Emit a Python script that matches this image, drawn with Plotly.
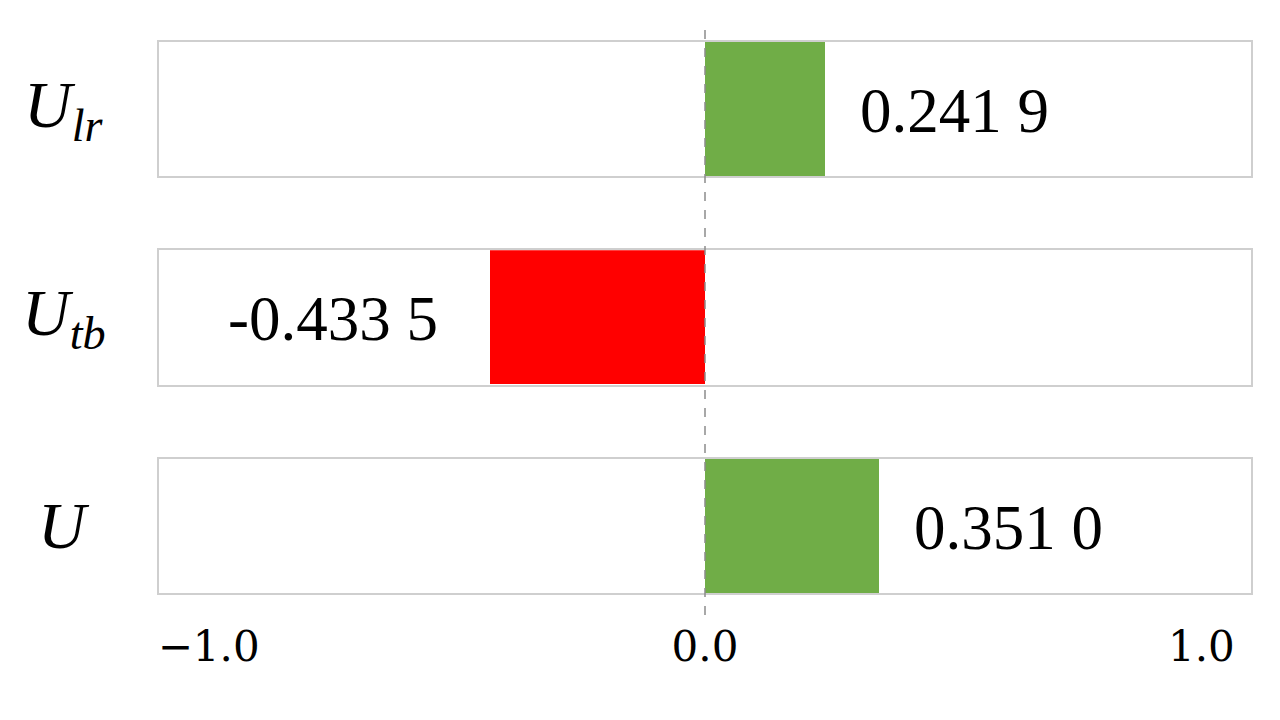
import plotly.graph_objects as go
from plotly.subplots import make_subplots

# Data (top to bottom)
categories = ["<i>U</i><sub><i>lr</i></sub>", "<i>U</i><sub><i>tb</i></sub>", "<i>U</i>"]
values = [0.2419, -0.4335, 0.3510]
value_labels = ["0.241 9", "-0.433 5", "0.351 0"]
tick_vals = [-1.0, 0.0, 1.0]
tick_text = ["\u22121.0", "0.0", "1.0"]

GREEN = "#70AD47"
RED = "#FF0000"
BORDER = "#CFCFCF"

fig = make_subplots(rows=3, cols=1, shared_xaxes=False, vertical_spacing=0.134)

for i, (cat, v, lab) in enumerate(zip(categories, values, value_labels)):
    r = i + 1
    fig.add_trace(
        go.Bar(x=[v], y=[0], orientation="h", width=1.0,
               marker=dict(color=GREEN if v >= 0 else RED, line=dict(width=0)),
               showlegend=False, hoverinfo="skip"),
        row=r, col=1)
    xa = "x" if r == 1 else f"x{r}"
    ya = "y" if r == 1 else f"y{r}"
    # value label
    fig.add_annotation(x=v, y=0, xref=xa, yref=ya, text=lab, showarrow=False,
                       xanchor="left" if v >= 0 else "right",
                       xshift=33 if v >= 0 else -50, yshift=-2,
                       font=dict(family="Liberation Serif", size=63, color="black"))
    # category label
    fig.add_annotation(x=-0.087, y=0.5, xref="paper", yref=f"{ya} domain", text=cat,
                       showarrow=False, xanchor="center", yanchor="middle",
                       font=dict(family="Liberation Serif", size=66, color="black"))
    fig.update_yaxes(range=[-0.5, 0.5], showticklabels=False, showgrid=False,
                     zeroline=False, showline=True, mirror=True,
                     linecolor=BORDER, linewidth=2, row=r, col=1)
    fig.update_xaxes(range=[-1.1, 1.1], showgrid=False, zeroline=False,
                     showline=True, mirror=True, linecolor=BORDER, linewidth=2,
                     tickvals=tick_vals, ticktext=tick_text,
                     showticklabels=(r == 3), ticks="", row=r, col=1)

fig.update_xaxes(ticklabelstandoff=16,
                 tickfont=dict(family="DejaVu Serif", size=42, color="black"),
                 row=3, col=1)

# dashed zero line spanning all panels
fig.add_shape(type="line", xref="x3", yref="paper", x0=0, x1=0, y0=-0.04, y1=1.025,
              line=dict(color="#8C8C8C", width=1.5, dash="dash"), layer="above")

fig.update_layout(width=1280, height=720, plot_bgcolor="white", paper_bgcolor="white",
                  margin=dict(l=151, r=37, t=34, b=135), bargap=0)

fig.write_html("out.html")
